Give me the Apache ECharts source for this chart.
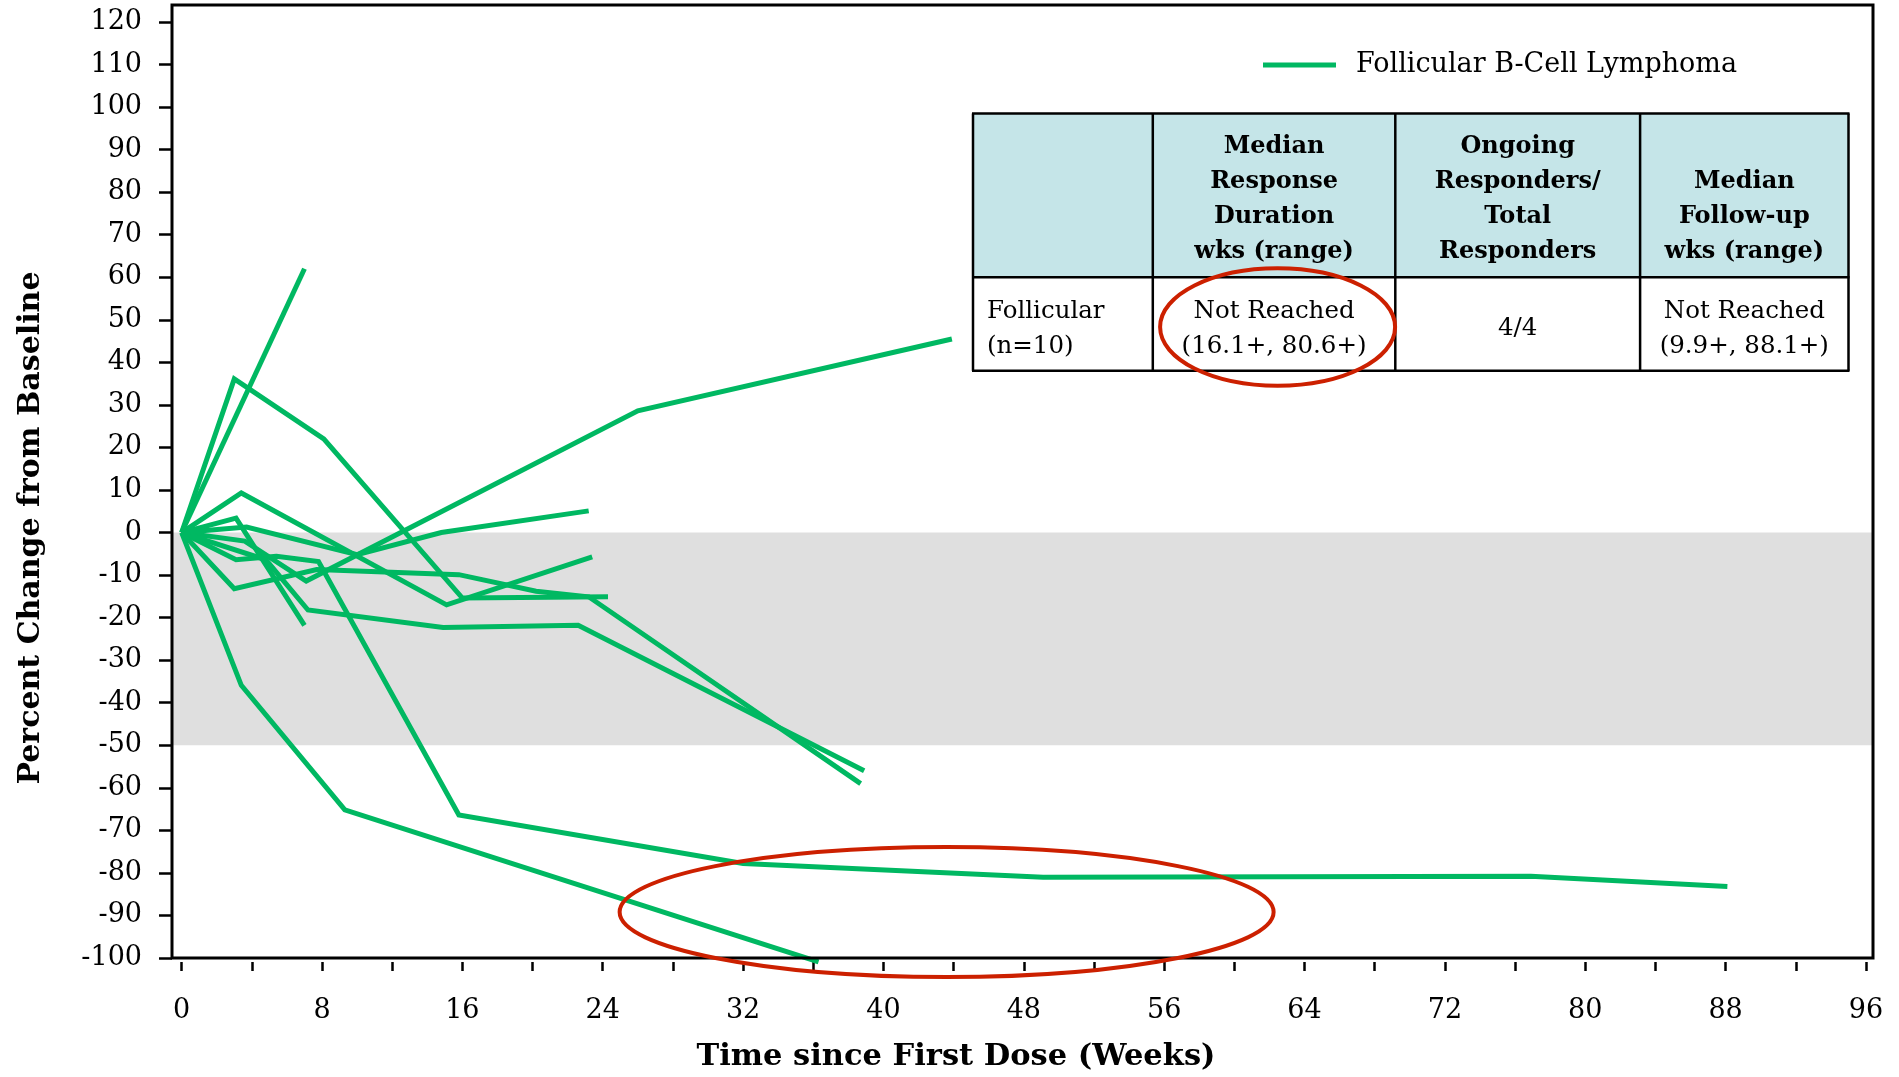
<!DOCTYPE html>
<html>
<head>
<meta charset="utf-8">
<title>Follicular B-Cell Lymphoma – Percent Change from Baseline</title>
<script src="https://cdn.jsdelivr.net/npm/echarts@6/dist/echarts.min.js"></script>
<style>
  html, body { margin: 0; padding: 0; background: #ffffff; }
  #chart { width: 1899px; height: 1077px; }
</style>
</head>
<body>
<div id="chart"></div>
<script>
// ---- data: [week, percent change from baseline] per patient ----
const seriesName = 'Follicular B-Cell Lymphoma';
const patient01 = [[0, 0], [7.0, 62]];
const patient02 = [[0, 0], [3.0, 36.1], [8.1, 22.0], [16.0, -15.4], [24.3, -15.1]];
const patient03 = [[0, 0], [3.4, 9.3], [15.1, -17.0], [23.4, -5.7]];
const patient04 = [[0, 0], [3.1, 3.4], [7.0, -21.8]];
const patient05 = [[0, 0], [3.6, -2.0], [7.1, -11.4], [26.0, 28.6], [43.9, 45.5]];
const patient06 = [[0, 0], [3.4, -35.9], [9.3, -65.2], [36.3, -100.9]];
const patient07 = [[0, 0], [3.1, -6.4], [5.4, -5.6], [7.8, -6.8], [15.8, -66.4], [32.0, -77.8], [49.1, -81.0], [76.9, -80.8], [88.1, -83.2]];
const patient08 = [[0, 0], [4.8, -6.4], [7.2, -18.2], [14.9, -22.3], [22.6, -21.8], [38.9, -56.0]];
const patient09 = [[0, 0], [3.7, 1.3], [10.0, -5.2], [14.8, 0], [23.2, 5.1]];
const patient10 = [[0, 0], [3.0, -13.2], [7.7, -8.7], [15.8, -9.9], [20.2, -13.8], [23.2, -15.1], [38.7, -59.0]];

const patients = [patient01, patient02, patient03, patient04, patient05,
                  patient06, patient07, patient08, patient09, patient10];

// axis ticks and labels
const xTickValues = [0, 4, 8, 12, 16, 20, 24, 28, 32, 36, 40, 44, 48, 52, 56, 60, 64, 68, 72, 76, 80, 84, 88, 92, 96];
const xLabelValues = [0, 8, 16, 24, 32, 40, 48, 56, 64, 72, 80, 88, 96];
const yTickValues = [-100, -90, -80, -70, -60, -50, -40, -30, -20, -10, 0, 10, 20, 30, 40, 50, 60, 70, 80, 90, 100, 110, 120];

// shaded response band (0 to -50 %)
const bandTop = 0;
const bandBottom = -50;

// highlighted durable-response region [week, percent]
const highlightCenter = [43.6, -89.2];

// summary table
const tableHeader = ['', 'Median\nResponse\nDuration\nwks (range)', 'Ongoing\nResponders/\nTotal\nResponders', 'Median\nFollow-up\nwks (range)'];
const tableRow = ['Follicular\n(n=10)', 'Not Reached\n(16.1+, 80.6+)', '4/4', 'Not Reached\n(9.9+, 88.1+)'];

// ---- styling ----
const FONT = '"DejaVu Serif", "Liberation Serif", serif';
const GREEN = '#00b862';
const RED = '#cc2000';

const chart = echarts.init(document.getElementById('chart'), null, { renderer: 'canvas' });

const lineSeries = patients.map(function (pts) {
  return {
    name: seriesName,
    type: 'line',
    data: pts,
    showSymbol: false,
    symbol: 'none',
    clip: false,
    z: 3,
    lineStyle: { color: GREEN, width: 5, join: 'miter', cap: 'butt' },
    itemStyle: { color: GREEN },
    emphasis: { disabled: true }
  };
});

const bandSeries = {
  name: 'band',
  type: 'line',
  data: [],
  z: 1,
  silent: true,
  markArea: {
    silent: true,
    itemStyle: { color: '#dfdfdf' },
    data: [[{ yAxis: bandTop }, { yAxis: bandBottom }]]
  }
};

const option = {
  animation: false,
  backgroundColor: '#ffffff',
  grid: {
    left: 172, right: 26, top: 5, bottom: 119,
    show: true, borderColor: '#000', borderWidth: 3,
    backgroundColor: 'transparent',
    z: 4,
    outerBoundsMode: 'none'
  },
  legend: {
    data: [seriesName],
    left: 1258, top: 45,
    icon: 'rect',
    itemWidth: 73, itemHeight: 5,
    selectedMode: false,
    textStyle: { fontFamily: FONT, fontSize: 27, color: '#000', padding: [0, 0, 0, 15], lineHeight: 30 }
  },
  xAxis: {
    type: 'value',
    min: -0.55, max: 96.4,
    offset: 4,
    axisLine: { show: false, onZero: false },
    splitLine: { show: false },
    axisTick: { show: true, length: 9, lineStyle: { color: '#000', width: 2.5 }, customValues: xTickValues },
    axisLabel: { customValues: xLabelValues, margin: 35, fontFamily: FONT, fontSize: 27, color: '#000' }
  },
  yAxis: {
    type: 'value',
    min: -100, max: 124,
    axisLine: { show: false, onZero: false },
    splitLine: { show: false },
    axisTick: { show: true, length: 13, lineStyle: { color: '#000', width: 2.5 }, customValues: yTickValues },
    axisLabel: { customValues: yTickValues, margin: 30, fontFamily: FONT, fontSize: 27, color: '#000' }
  },
  series: [bandSeries].concat(lineSeries)
};

chart.setOption(option);

// ---- annotations: axis titles, table, highlight ellipses ----
const tbl = { left: 973, right: 1848.5, top: 113.5, mid: 277.3, bottom: 370.7, cols: [973, 1152.8, 1395.3, 1640.1, 1848.5] };
const colCenter = function (i) { return (tbl.cols[i] + tbl.cols[i + 1]) / 2; };
const headerY = [196, 199, 199, 216.5];
const bodyY = 329;

const elements = [];

// axis titles
elements.push({
  type: 'text', z: 10,
  style: { text: 'Time since First Dose (Weeks)', x: 956, y: 1057, align: 'center', verticalAlign: 'middle',
           fontFamily: FONT, fontWeight: 'bold', fontSize: 30.5, fill: '#000' }
});
elements.push({
  type: 'text', z: 10, x: 31, y: 528, rotation: Math.PI / 2,
  style: { text: 'Percent Change from Baseline', x: 0, y: 0, align: 'center', verticalAlign: 'middle',
           fontFamily: FONT, fontWeight: 'bold', fontSize: 30, fill: '#000' }
});

// table background
elements.push({ type: 'rect', z: 10, shape: { x: tbl.left, y: tbl.top, width: tbl.right - tbl.left, height: tbl.mid - tbl.top }, style: { fill: '#c5e5e8' } });
elements.push({ type: 'rect', z: 10, shape: { x: tbl.left, y: tbl.mid, width: tbl.right - tbl.left, height: tbl.bottom - tbl.mid }, style: { fill: '#ffffff' } });
// table rules
[tbl.top, tbl.mid, tbl.bottom].forEach(function (y) {
  elements.push({ type: 'line', z: 11, shape: { x1: tbl.left - 1, y1: y, x2: tbl.right + 1, y2: y }, style: { stroke: '#000', lineWidth: 2.5 } });
});
tbl.cols.forEach(function (x) {
  elements.push({ type: 'line', z: 11, shape: { x1: x, y1: tbl.top, x2: x, y2: tbl.bottom }, style: { stroke: '#000', lineWidth: 2.5 } });
});
// header cells
tableHeader.forEach(function (t, i) {
  if (!t) return;
  elements.push({
    type: 'text', z: 12,
    style: { text: t, x: colCenter(i), y: headerY[i], align: 'center', verticalAlign: 'middle',
             fontFamily: FONT, fontWeight: 'bold', fontSize: 24, lineHeight: 35, fill: '#000' }
  });
});
// body cells
tableRow.forEach(function (t, i) {
  elements.push({
    type: 'text', z: 12,
    style: { text: t, x: i === 0 ? 987 : colCenter(i), y: bodyY, align: i === 0 ? 'left' : 'center', verticalAlign: 'middle',
             fontFamily: FONT, fontSize: 24.5, lineHeight: 35, fill: '#000' }
  });
});

// highlight around response-duration cell
elements.push({ type: 'ellipse', z: 13, shape: { cx: 1277.6, cy: 327, rx: 117.5, ry: 58.7 }, style: { fill: 'none', stroke: RED, lineWidth: 4 } });

// highlight of durable responses in the plot
const hc = chart.convertToPixel({ gridIndex: 0 }, highlightCenter);
elements.push({ type: 'ellipse', z: 13, shape: { cx: hc[0], cy: hc[1], rx: 327, ry: 65 }, style: { fill: 'none', stroke: RED, lineWidth: 4 } });

chart.setOption({ graphic: { elements: elements } });
</script>
</body>
</html>
